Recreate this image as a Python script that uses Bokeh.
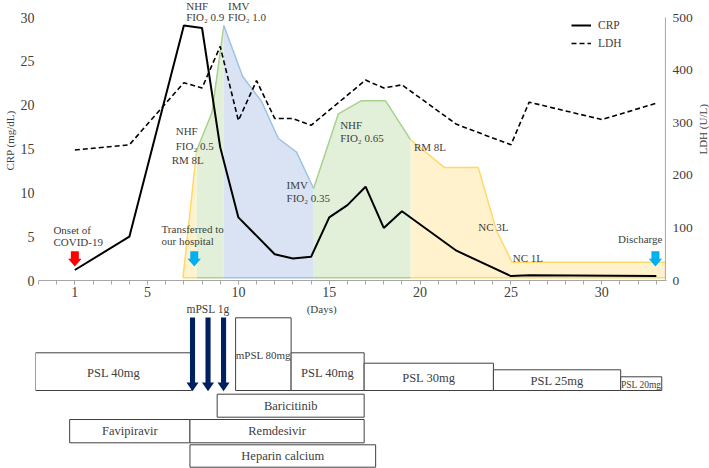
import math
from bokeh.plotting import figure
from bokeh.models import (Range1d, LinearAxis, FixedTicker, Label, Legend,
                          LegendItem, ColumnDataSource)
from bokeh.layouts import column, row
from bokeh.embed import file_html
from bokeh.resources import INLINE
from bokeh.core.properties import value

FONT = "Liberation Serif"
TXT = "#404040"
AX = "#a6a6a6"

# ---------------- data ----------------
crp_day = [1, 4, 7, 8, 9, 10, 12, 13, 14, 15, 16, 17, 18, 19, 22, 25, 26, 33]
crp_val = [1.2, 5.0, 29.1, 28.8, 15.2, 7.2, 3.0, 2.5, 2.7, 7.2, 8.6, 10.7, 6.0, 7.9, 3.4, 0.5, 0.6, 0.5]
ldh_day = [1, 4, 7, 8, 9, 10, 11, 12, 13, 14, 17, 18, 19, 22, 25, 26, 30, 33]
ldh_val = [248, 258, 376, 366, 445, 304, 380, 308, 308, 295, 381, 366, 372, 297, 258, 339, 306, 337]

# respiratory support bands (drawn on the CRP scale)
rm1_day = [6.95, 7.7]
rm1_lvl = [0.3, 14.8]
nhf1_day = [7.7, 8.55, 9.2]
nhf1_lvl = [14.8, 19.2, 29.1]
imv_day = [9.2, 10.23, 11.28, 12.2, 13.2, 14.14]
imv_lvl = [29.1, 23.3, 20.4, 16.2, 14.65, 10.5]
nhf2_day = [14.14, 15.5, 16.75, 18.1, 19.47]
nhf2_lvl = [10.5, 19.0, 20.5, 20.5, 16.06]
rm2_day = [19.47, 21.33, 23.2, 24.2, 25.06, 33.5]
rm2_lvl = [16.06, 12.9, 12.9, 5.7, 2.09, 2.09]
BASE = 0.3

x_ticks = [1, 5, 10, 15, 20, 25, 30]
crp_ticks = [0, 5, 10, 15, 20, 25, 30]
ldh_ticks = [0, 100, 200, 300, 400, 500]

event_day = [1, 7.57, 32.95]
event_color = ["#FF0000", "#00B0F0", "#00B0F0"]

notes = [
    ("NHF", 7.13, 31.3), ("FIO\u2082 0.9", 7.13, 30.05),
    ("IMV", 9.43, 31.3), ("FIO\u2082 1.0", 9.43, 30.05),
    ("NHF", 6.55, 17.05), ("FIO\u2082 0.5", 6.55, 15.3), ("RM 8L", 6.33, 13.7),
    ("IMV", 12.65, 10.9), ("FIO\u2082 0.35", 12.65, 9.4),
    ("NHF", 15.6, 17.7), ("FIO\u2082 0.65", 15.6, 16.3),
    ("RM 8L", 19.66, 15.2), ("NC 3L", 23.2, 6.15), ("NC 1L", 25.1, 2.6),
    ("Discharge", 30.89, 4.7),
    ("Onset of", -0.18, 5.8), ("COVID-19", -0.18, 4.4),
    ("Transferred to", 5.77, 5.9), ("our hospital", 5.77, 4.5),
]

# treatments
psl_label = ["PSL 40mg", "mPSL 80mg", "PSL 40mg", "PSL 30mg", "PSL 25mg", "PSL 20mg"]
psl_start = [-1.0, 9.96, 13.0, 17.0, 24.08, 31.05]
psl_end = [7.55, 13.0, 17.0, 24.08, 31.05, 33.3]
psl_dose = [40, 80, 40, 30, 25, 20]
pulse_day = [7.6, 8.45, 9.3]          # mPSL 1g pulses
drug_label = ["Baricitinib", "Favipiravir", "Remdesivir", "Heparin calcium"]
drug_start = [8.95, 0.87, 7.46, 7.46]
drug_end = [17.0, 7.46, 17.0, 17.63]

# ---------------- layout constants ----------------
W = 709
SIDE_W = 14                       # strip holding the right-hand axis title
LB = 35
FR_R = 666                        # right edge of the plotting frame
TOP_H, BOT_B = 302, 22
FRAME_H = TOP_H - BOT_B
HEAD = 17                         # px above the 30 / 500 line for the notes
ratio = FRAME_H / (FRAME_H - HEAD)
X0, X1 = -1.0, 33.5

p = figure(width=W - SIDE_W, height=TOP_H, x_range=Range1d(X0, X1 + 0.06),
           y_range=Range1d(0, crp_ticks[-1] * ratio),
           output_backend="svg", toolbar_location=None,
           min_border_left=LB, min_border_right=W - SIDE_W - FR_R,
           min_border_top=0, min_border_bottom=BOT_B,
           outline_line_color=None)
p.extra_y_ranges = {"ldh": Range1d(0, ldh_ticks[-1] * ratio)}
p.xgrid.visible = False
p.ygrid.visible = False

xa = p.xaxis[0]
xa.ticker = FixedTicker(ticks=x_ticks, minor_ticks=list(range(-1, 34)))
xa.axis_line_color = AX
xa.major_tick_line_color = AX
xa.minor_tick_line_color = AX
xa.major_tick_in = 0
xa.major_tick_out = 4
xa.minor_tick_in = 0
xa.minor_tick_out = 4
xa.major_label_standoff = 2
xa.major_label_text_font = FONT
xa.major_label_text_font_size = "14px"
xa.major_label_text_color = TXT

ya = p.yaxis[0]
ya.ticker = FixedTicker(ticks=crp_ticks)
ya.axis_line_color = None
ya.major_tick_line_color = None
ya.minor_tick_line_color = None
ya.major_tick_in = 0
ya.major_tick_out = 0
ya.minor_tick_in = 0
ya.minor_tick_out = 0
ya.major_label_standoff = 4
ya.major_label_text_font = FONT
ya.major_label_text_font_size = "14px"
ya.major_label_text_color = TXT
ya.axis_label = "CRP (mg/dL)"
ya.axis_label_standoff = 2
ya.axis_label_text_font = FONT
ya.axis_label_text_font_size = "11px"
ya.axis_label_text_font_style = "normal"
ya.axis_label_text_color = TXT

ra = LinearAxis(y_range_name="ldh", ticker=FixedTicker(ticks=ldh_ticks))
ra.axis_line_color = None
ra.major_tick_line_color = None
ra.minor_tick_line_color = None
ra.major_tick_in = 0
ra.major_tick_out = 0
ra.minor_tick_in = 0
ra.minor_tick_out = 0
ra.major_label_standoff = 6
ra.major_label_text_font = FONT
ra.major_label_text_font_size = "13.5px"
ra.major_label_text_color = TXT
p.add_layout(ra, "right")

YEL_F, YEL_L = "#FFF2CC", "#FFD966"
GRN_F, GRN_L = "#E2F0D9", "#A9D18E"
BLU_F, BLU_L = "#DAE3F3", "#9DC3E6"


def band(days, lvl, fill, edge):
    p.varea(x=days, y1=[BASE] * len(days), y2=lvl, fill_color=fill)
    p.line(days, lvl, line_color=edge, line_width=1.5)
    p.line([days[0], days[-1]], [BASE, BASE], line_color=edge, line_width=1.5)


band(rm1_day, rm1_lvl, YEL_F, YEL_L)
band(rm2_day, rm2_lvl, YEL_F, YEL_L)
band(nhf1_day, nhf1_lvl, GRN_F, GRN_L)
band(nhf2_day, nhf2_lvl, GRN_F, GRN_L)
band(imv_day, imv_lvl, BLU_F, BLU_L)

# right-hand axis line (only up to 500, as in the reference)
p.line([X1, X1], [ldh_ticks[0], ldh_ticks[-1]], y_range_name="ldh",
       line_color=AX, line_width=1)

r_ldh = p.line(ldh_day, ldh_val, y_range_name="ldh", line_color="black",
               line_width=1.6, line_dash="5 3")
r_crp = p.line(crp_day, crp_val, line_color="black", line_width=2)

# event arrows (block arrows)
HS, HH = 0.22, 0.37        # half shaft / half head widths in days
YT, YN, YP = 3.35, 2.47, 1.6
axs, ays = [], []
for d in event_day:
    axs.append([d - HS, d + HS, d + HS, d + HH, d, d - HH, d - HS])
    ays.append([YT, YT, YN, YN, YP, YN, YN])
p.patches(axs, ays, fill_color=event_color, line_color=None)

for t, x, y in notes:
    p.add_layout(Label(x=x, y=y, text=t, text_font=FONT, text_font_size="11px",
                       text_color=TXT, text_baseline="middle", text_align="left"))

legend = Legend(items=[LegendItem(label="CRP", renderers=[r_crp]),
                       LegendItem(label="LDH", renderers=[r_ldh])],
                location=(568 - LB, FRAME_H - HEAD - 34), orientation="vertical",
                label_text_font=FONT, label_text_font_size="11.5px",
                label_text_color=TXT, glyph_width=20, glyph_height=16,
                label_height=16, label_standoff=7, spacing=2, padding=0, margin=0,
                border_line_color=None, background_fill_alpha=0)
p.add_layout(legend)

# narrow strip with the right-hand axis title (reads bottom-to-top)
q = figure(width=SIDE_W, height=TOP_H, x_range=Range1d(0, 1), y_range=Range1d(0, TOP_H),
           output_backend="svg", toolbar_location=None, x_axis_type=None, y_axis_type=None,
           min_border_left=0, min_border_right=0, min_border_top=0, min_border_bottom=0,
           outline_line_color=None)
q.xgrid.visible = False
q.ygrid.visible = False
q.add_layout(Label(x=0.55, y=TOP_H - 139, text="LDH (U/L)", angle=math.pi / 2,
                   text_font=FONT, text_font_size="11px", text_color=TXT,
                   text_align="center", text_baseline="middle"))

# ---------------- treatment panel ----------------
p2 = figure(width=W, height=166, x_range=p.x_range, y_range=Range1d(468, 302),
            output_backend="svg", toolbar_location=None,
            x_axis_type=None, y_axis_type=None,
            min_border_left=LB, min_border_right=W - FR_R, min_border_top=0, min_border_bottom=0,
            outline_line_color=None)
p2.xgrid.visible = False
p2.ygrid.visible = False

BOX_L = "#404040"
psl_top = [352.3, 317.3, 352.3, 362.7, 369.3, 376.3]
PSL_BOTTOM = 390
psl_font = ["12.5px", "11px", "12.5px", "12.5px", "12.5px", "9.5px"]
src = ColumnDataSource(dict(
    left=psl_start, right=psl_end, top=psl_top, bottom=[PSL_BOTTOM] * len(psl_start),
    xc=[(a + b) / 2 for a, b in zip(psl_start, psl_end)],
    yc=[(t + PSL_BOTTOM) / 2 + 1 for t in psl_top],
    label=psl_label, fs=psl_font))
p2.quad(left="left", right="right", top="top", bottom="bottom", source=src,
        fill_color="white", line_color=BOX_L, line_width=1)
p2.text(x="xc", y="yc", text="label", source=src, text_font=value(FONT),
        text_font_size="fs", text_color=TXT, text_align="center", text_baseline="middle")

drug_top = [393.7, 419.0, 419.0, 444.3]
drug_bot = [416.7, 442.3, 442.3, 466.7]
src2 = ColumnDataSource(dict(
    left=drug_start, right=drug_end, top=drug_top, bottom=drug_bot,
    xc=[(a + b) / 2 for a, b in zip(drug_start, drug_end)],
    yc=[(a + b) / 2 for a, b in zip(drug_top, drug_bot)], label=drug_label))
p2.quad(left="left", right="right", top="top", bottom="bottom", source=src2,
        fill_color="white", line_color=BOX_L, line_width=1)
p2.text(x="xc", y="yc", text="label", source=src2, text_font=value(FONT),
        text_font_size="12.5px", text_color=TXT, text_align="center", text_baseline="middle")

# mPSL pulse arrows
PS, PH = 0.14, 0.33
PT, PN, PP = 317, 382, 390.7
pxs, pys = [], []
for d in pulse_day:
    pxs.append([d - PS, d + PS, d + PS, d + PH, d, d - PH, d - PS])
    pys.append([PT, PT, PN, PN, PP, PN, PN])
p2.patches(pxs, pys, fill_color="#002060", line_color=None)

p2.add_layout(Label(x=sum(pulse_day) / len(pulse_day), y=308, text="mPSL 1g",
                    text_font=FONT, text_font_size="11.5px", text_color=TXT,
                    text_align="center", text_baseline="middle"))
p2.add_layout(Label(x=14.67, y=308, text="(Days)", text_font=FONT,
                    text_font_size="11px", text_color=TXT,
                    text_align="center", text_baseline="middle"))

layout = column(row(p, q, spacing=0), p2, spacing=0)
open("out.html", "w").write(file_html(layout, INLINE))
